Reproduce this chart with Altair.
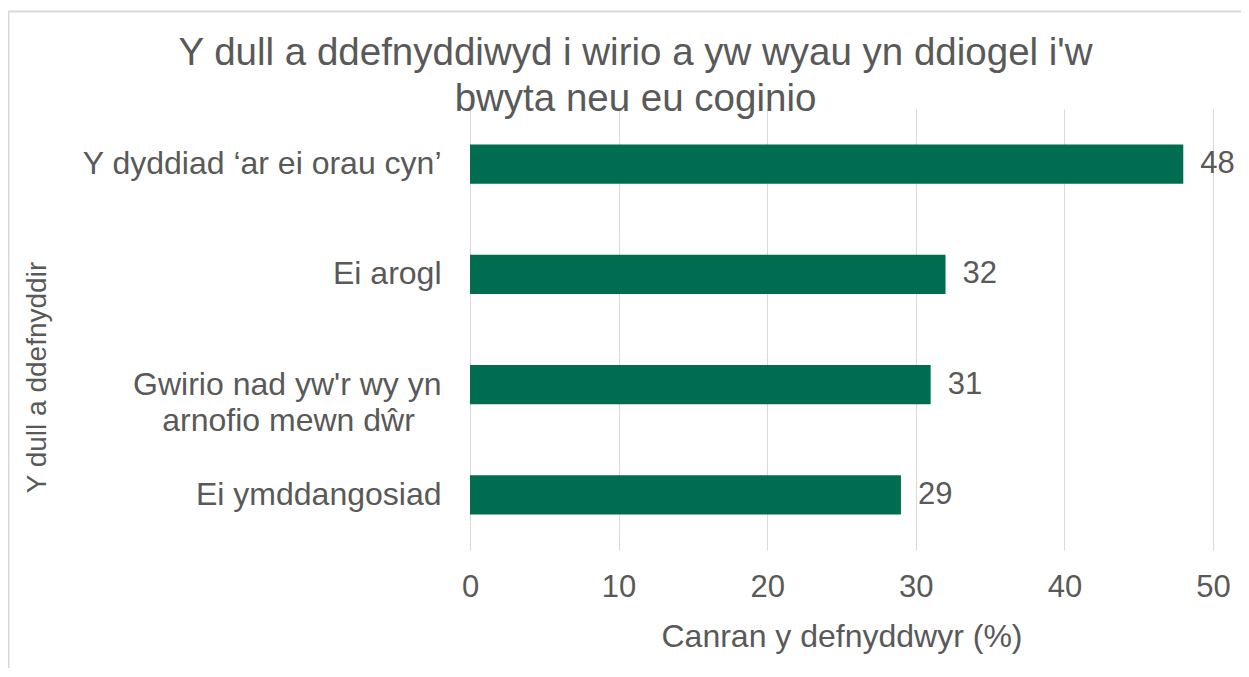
import altair as alt
import pandas as pd

categories = ["Y dyddiad ‘ar ei orau cyn’", "Ei arogl",
              "Gwirio nad yw'r wy yn arnofio mewn dŵr", "Ei ymddangosiad"]
values = [48, 32, 31, 29]
x_ticks = [0, 10, 20, 30, 40, 50]
title_lines = ["Y dull a ddefnyddiwyd i wirio a yw wyau yn ddiogel i'w",
               "bwyta neu eu coginio"]

df = pd.DataFrame({"method": categories, "pct": values})

FONT = "Liberation Sans"
GREY = "#595959"
PAD = "\u00a0" * 3 + "\u2060"
wrap_expr = ('datum.label == "Gwirio nad yw\'r wy yn arnofio mewn dŵr" ? '
             '["Gwirio nad yw\'r wy yn", "arnofio mewn dŵr' + PAD + '"] : datum.label')

y_enc = alt.Y(
    "method:N", sort=categories, title="Y dull a ddefnyddir",
    scale=alt.Scale(paddingInner=0.646, paddingOuter=0.323),
    axis=alt.Axis(domain=False, ticks=False, grid=False,
                  labelFont=FONT, labelFontSize=32, labelColor=GREY,
                  labelPadding=29, labelLimit=0, labelLineHeight=36,
                  labelExpr=wrap_expr,
                  titleFont=FONT, titleFontSize=28, titleColor=GREY,
                  titleFontWeight="normal", titleAngle=270,
                  titleX=-433, titleY=268, titleAlign="center",
                  titleBaseline="middle"))
x_enc = alt.X(
    "pct:Q", title="Canran y defnyddwyr (%)",
    scale=alt.Scale(domain=[0, 50], nice=False),
    axis=alt.Axis(values=x_ticks, domain=False, ticks=False, grid=True,
                  gridColor="#d9d9d9", gridWidth=1, labelFlush=False,
                  labelFont=FONT, labelFontSize=31, labelColor=GREY,
                  labelPadding=22,
                  titleFont=FONT, titleFontSize=32, titleColor=GREY,
                  titleFontWeight="normal", titleY=71, titleBaseline="top"))

base = alt.Chart(df)
bars = base.mark_bar(color="#006C50").encode(x=x_enc, y=y_enc)
labels = base.mark_text(align="left", baseline="middle", dx=17, font=FONT,
                        fontSize=31, color=GREY).encode(
    x="pct:Q", y=alt.Y("method:N", sort=categories), text="pct:Q")
frame = alt.Chart(alt.Data(values=[{}])).mark_rect(
    fillOpacity=0, stroke="#d9d9d9", strokeWidth=2).encode(
    x=alt.value(-461.5), x2=alt.value(800), y=alt.value(-97.5), y2=alt.value(620))

chart = alt.layer(frame, bars, labels).properties(
    width=743, height=441,
    padding={"left": 462, "top": 101, "right": 28, "bottom": 118},
    autosize=alt.AutoSizeParams(type="none"),
    title=alt.TitleParams(text=title_lines, font=FONT, fontSize=38.5, color=GREY,
                          fontWeight="normal", anchor="middle", dx=-206,
                          dy=113, lineHeight=46),
).configure_view(stroke=None)

chart.save("out.html", embed_options={"renderer": "svg", "actions": False})
